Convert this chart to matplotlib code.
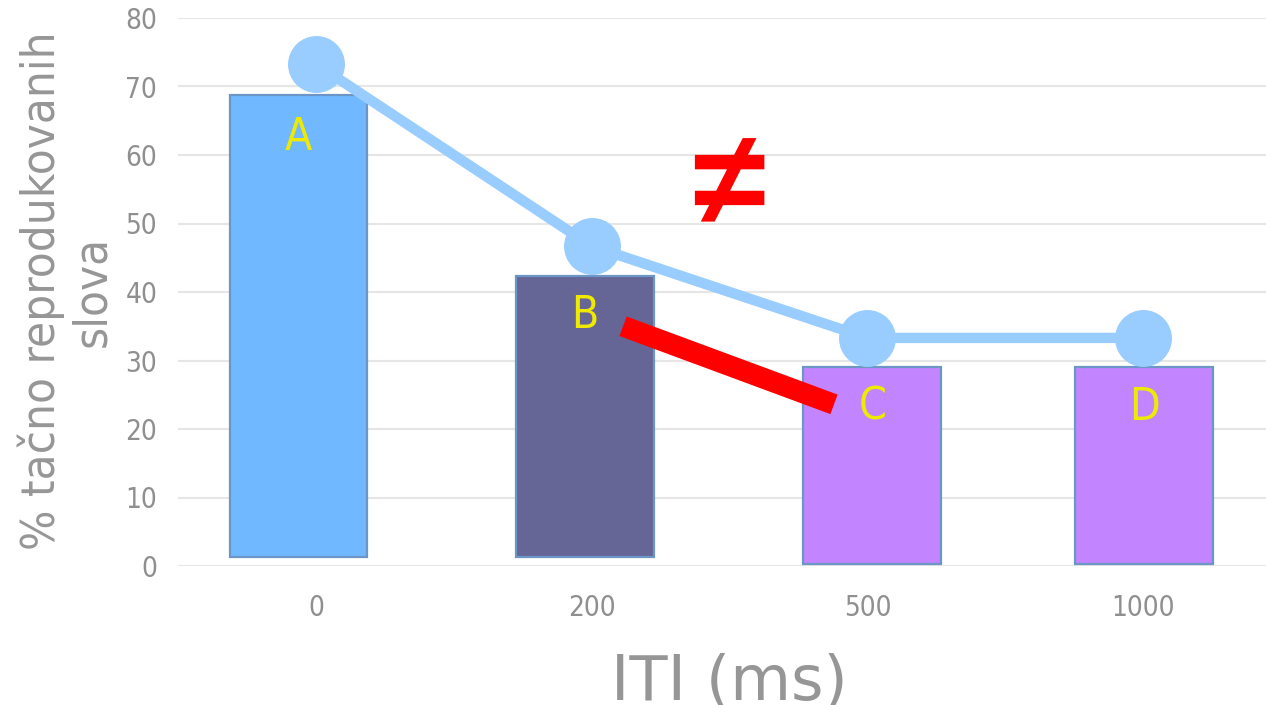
import numpy as np
import matplotlib
matplotlib.use("Agg")
import matplotlib.pyplot as plt

# ITI conditions and percent of correctly reproduced words
iti_labels = ["0", "200", "500", "1000"]
bar_tops = [68.8, 42.3, 29.1, 29.1]
bar_bottoms = [1.3, 1.3, 0.25, 0.25]
bar_pos = [-0.063, 0.975, 2.018, 3.004]
bar_colors = ["#70b8ff", "#666696", "#c285ff", "#c285ff"]
line_vals = [73.3, 46.7, 33.3, 33.3]
group_names = ["A", "B", "C", "D"]
group_y = [62.6, 36.5, 23.2, 23.1]

# thick red connector between B and C, and the "not equal" mark
red_x = [1.114, 1.879]
red_y = [35.0, 23.6]
neq_xy = (1.496, 54.9)

GRAY = "#8f8f8f"
COND = ["DejaVu Sans Condensed", "DejaVu Sans"]

fig = plt.figure(figsize=(12.66, 7.05), dpi=100)
ax = fig.add_axes([178 / 1266, 1 - 566 / 705, (1281 - 178) / 1266, (566 - 18) / 705])

x = np.arange(len(iti_labels))
heights = [t - b for t, b in zip(bar_tops, bar_bottoms)]
ax.bar(bar_pos, heights, bottom=bar_bottoms, width=0.5, color=bar_colors,
       edgecolor="#6c96c6", linewidth=1.6, zorder=2)

ax.plot(x, line_vals, color="#99ccff", linewidth=7.5, marker="o", markersize=41,
        markeredgewidth=0, solid_capstyle="butt", zorder=3, clip_on=False)

ax.plot(red_x, red_y, color="#ff0000", linewidth=15, solid_capstyle="butt", zorder=4)
ax.text(*neq_xy, "\u2260", color="#ff0000", fontsize=96, fontweight="bold",
        family=["Liberation Sans", "DejaVu Sans"], ha="center", va="center", zorder=5)

for xp, yp, name in zip(bar_pos, group_y, group_names):
    ax.text(xp, yp, name, color="#eeea00", fontsize=32, ha="center", va="center",
            family=COND, fontstretch="condensed", zorder=6)

ax.set_xlim(-0.5, 3.5)
ax.set_ylim(0, 80)
ax.set_yticks(range(0, 81, 10))
ax.set_xticks(x)
ax.set_xticklabels(iti_labels)
ax.grid(axis="y", color="#e6e6e6", linewidth=1.5, zorder=0)
ax.set_axisbelow(True)
for s in ax.spines.values():
    s.set_visible(False)
ax.tick_params(axis="both", length=0, labelcolor=GRAY, labelsize=20)
ax.tick_params(axis="x", pad=20)
ax.tick_params(axis="y", pad=15)
for lab in ax.get_xticklabels() + ax.get_yticklabels():
    lab.set_family(COND)
    lab.set_fontstretch("condensed")

fig.text(66 / 1266, 1 - 291 / 705, "% tačno reprodukovanih\nslova", rotation=90,
         ha="center", va="center", multialignment="center", color="#969696",
         fontsize=34, family=COND, fontstretch="condensed", linespacing=1.15)
fig.text(729 / 1266, 1 - 700 / 705, "ITI (ms)", ha="center", va="baseline",
         color="#969696", fontsize=45)

fig.savefig("out.png", dpi=100)
